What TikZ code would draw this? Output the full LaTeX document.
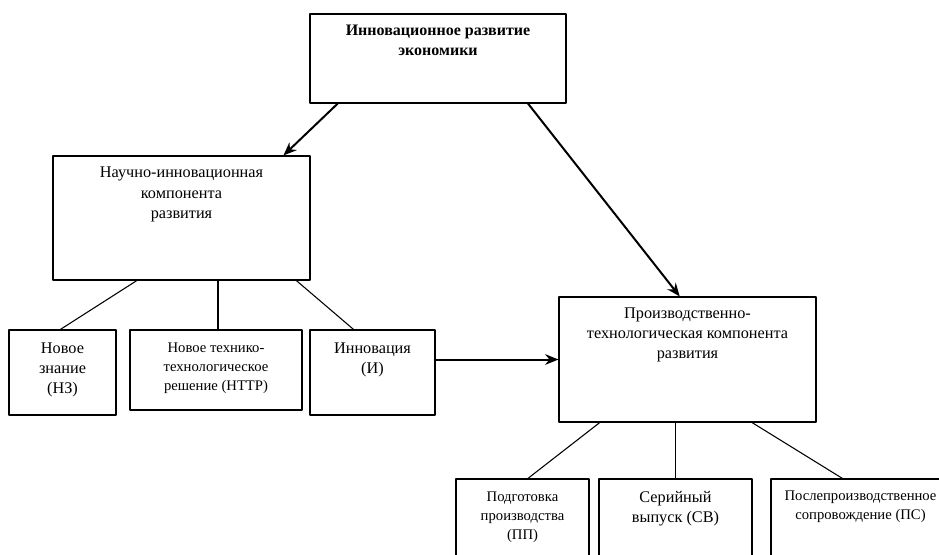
\documentclass[tikz,border=0pt]{standalone}
\usepackage{fontspec}
\setmainfont{Liberation Serif}
\usetikzlibrary{positioning,calc,arrows.meta}

\tikzset{
  box/.style={draw, line width=0.8pt, inner sep=0pt},
  boxtext/.style={inner sep=0pt, align=center, font=\fontsize{12.2}{15.3}\selectfont},
  smalltext/.style={inner sep=0pt, align=center, font=\fontsize{11}{14.5}\selectfont},
  link/.style={line width=0.8pt},
  flow/.style={line width=1.5pt, -{Stealth[length=10pt,width=8pt]}}
}

\begin{document}
\begin{tikzpicture}[x=0.75pt, y=-0.75pt, line cap=round, line join=round]
  \clip (0,0) rectangle (939,554);

  % Boxes
  \node[box, minimum width=192pt, minimum height=66.75pt] (econ) at (438,58.5) {};
  \node[box, minimum width=192.75pt, minimum height=93pt] (nauch) at (181.5,218) {};
  \node[box, minimum width=80.25pt, minimum height=63.75pt] (nz) at (62.5,372.5) {};
  \node[box, minimum width=129pt, minimum height=60pt] (nttr) at (216,370) {};
  \node[box, minimum width=93.75pt, minimum height=63.75pt] (innov) at (372.5,372.5) {};
  \node[box, minimum width=192.75pt, minimum height=93.75pt] (proizv) at (687.5,359.5) {};
  \node[box, minimum width=99.75pt, minimum height=68.25pt] (pp) at (522.5,524.5) {};
  \node[box, minimum width=114.75pt, minimum height=68.25pt] (sv) at (675.5,524.5) {};
  \node[box, minimum width=134.25pt, minimum height=68.25pt] (ps) at (860.5,524.5) {};

  % Texts
  \node[boxtext, font=\fontsize{12}{15.3}\selectfont\bfseries, below=8.5pt of econ.north] (econt) {Инновационное развитие\\экономики};
  \node[boxtext, below=8.5pt of nauch.north] (naucht) {Научно-инновационная\\компонента\\развития};
  \node[boxtext, below=9.5pt of nz.north] (nzt) {Новое\\знание\\(НЗ)};
  \node[smalltext, below=9.5pt of nttr.north] (nttrt) {Новое технико-\\технологическое\\решение (НТТР)};
  \node[boxtext, below=9.5pt of innov.north] (innovt) {Инновация\\(И)};
  \node[boxtext, below=8pt of proizv.north] (proizvt) {Производственно-\\технологическая компонента\\развития};
  \node[smalltext, below=9.5pt of pp.north] (ppt) {Подготовка\\производства\\(ПП)};
  \node[boxtext, below=9.5pt of sv.north] (svt) {Серийный\\выпуск (СВ)};
  \node[smalltext, below=9pt of ps.north] (pst) {Послепроизводственное\\сопровождение (ПС)};

  % Arrows
  \draw[flow] ($(econ.south west)!0.11!(econ.south east)$) -- ($(nauch.north west)!0.895!(nauch.north east)$);
  \draw[flow] ($(econ.south west)!0.85!(econ.south east)$) -- ($(proizv.north west)!0.47!(proizv.north east)$);
  \draw[flow] (innov.east |- proizv.west) -- (proizv.west);

  % Links
  \draw[link] ($(nauch.south west)!0.327!(nauch.south east)$) -- ($(nz.north west)!0.48!(nz.north east)$);
  \draw[link] ($(nauch.south -| nttr.north)+(2,0)$) -- ($(nttr.north)+(2,0)$);
  \draw[link] ($(nauch.south west)!0.945!(nauch.south east)$) -- ($(innov.north west)!0.35!(innov.north east)$);
  \draw[link] ($(proizv.south west)!0.16!(proizv.south east)$) -- ($(pp.north west)!0.54!(pp.north east)$);
  \draw[link] (proizv.south -| sv.north) -- (sv.north);
  \draw[link] ($(proizv.south west)!0.75!(proizv.south east)$) -- ($(ps.north west)!0.4!(ps.north east)$);
\end{tikzpicture}
\end{document}
